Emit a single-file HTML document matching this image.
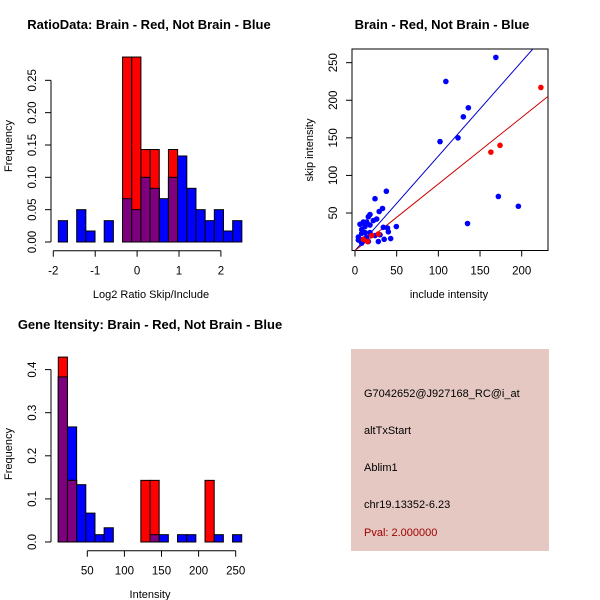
<!DOCTYPE html>
<html><head><meta charset="utf-8"><style>
html,body{margin:0;padding:0;background:#fff;}
svg{display:block;font-family:"Liberation Sans",sans-serif;}
</style></head><body>
<svg id="c" width="600" height="600" viewBox="0 0 600 600" xmlns="http://www.w3.org/2000/svg">
<rect width="600" height="600" fill="#fff"/>
<g id="p1"></g>
<g id="p2"></g>
<g id="p3"></g>
<g id="p4">
<rect x="351" y="349" width="198" height="202" fill="#E5C8C2"/>
<text x="364" y="397" font-size="11" fill="#000">G7042652@J927168_RC@i_at</text>
<text x="364" y="434" font-size="11" fill="#000">altTxStart</text>
<text x="364" y="471" font-size="11" fill="#000">Ablim1</text>
<text x="364" y="508" font-size="11" fill="#000">chr19.13352-6.23</text>
<text x="364" y="536" font-size="11" fill="#A00000">Pval: 2.000000</text>
</g>
</svg>
<script>
// ---- data ----
const ratioBinStart = -1.88;
const ratioBinWidth = 0.219;
const ratioBlue = [0.033,0,0.05,0.017,0,0.033,0,0.067,0.05,0.10,0.083,0.067,0.10,0.133,0.083,0.05,0.033,0.05,0.017,0.033];
const ratioRed  = [0,0,0,0,0,0,0,0.286,0.286,0.143,0.143,0,0.143,0,0,0,0,0,0,0];
const ratioXTicks = [-2,-1,0,1,2];
const ratioYTicks = ["0.00","0.05","0.10","0.15","0.20","0.25"];

const intBinStart = 10.9;
const intBinWidth = 12.36;
const intBlue = [0.383,0.267,0.133,0.067,0.017,0.033,0,0,0,0,0.017,0.017,0,0.017,0.017,0,0,0.017,0,0.017];
const intRed  = [0.429,0.143,0,0,0,0,0,0,0,0.143,0.143,0,0,0,0,0,0.143,0,0,0];
const intXTicks = [50,100,150,200,250];
const intYTicks = ["0.0","0.1","0.2","0.3","0.4"];

const blueX = [169,109,136,130,102,123.6,172,196,135,37.6,24,33,29,49.6,42.8,35,28,40,39,34,18,16,22,26,14,10,6,18,12,8,4,6,10,14,8,12,18,24,30,4,16,8,12];
const blueY = [257,225,190,178,145,150,72,59,36,79,69,56,52,32,16,15,12,25,30,31,48,45,40,42,38,38,35,34,32,28,18,15,14,18,23,24,24,20,21,14,12,10,16];
const redX = [223,163,174,15,20,10,28];
const redY = [217,131,140,12,20,15,22];
const blueSlope = 1.257;
const redSlope = 0.886;
const scatXTicks = [0,50,100,150,200];
const scatYTicks = [50,100,150,200,250];

const NS="http://www.w3.org/2000/svg";
function el(parent,tag,attrs,text){const e=document.createElementNS(NS,tag);for(const k in attrs)e.setAttribute(k,attrs[k]);if(text!==undefined)e.textContent=text;parent.appendChild(e);return e;}

function histogram(g,opt){
  const xs=v=>opt.x0px+(v-opt.x0)*opt.xk;
  const ys=v=>opt.base-v*opt.yk;
  for(let i=0;i<opt.blue.length;i++){
    const l=xs(opt.start+i*opt.w), r=xs(opt.start+(i+1)*opt.w);
    const b=opt.blue[i], rd=opt.red[i];
    if(b>0){const e=el(g,'rect',{x:l,y:ys(b),width:r-l,height:ys(0)-ys(b),fill:'#0000FF',stroke:'#000','stroke-width':1});
      }
    if(rd>0){const e=el(g,'rect',{x:l,y:ys(rd),width:r-l,height:ys(0)-ys(rd),fill:'#FF0000',stroke:'#000','stroke-width':1});
      }
    const m=Math.min(b,rd);
    if(m>0){const e=el(g,'rect',{x:l,y:ys(m),width:r-l,height:ys(0)-ys(m),fill:'#7F007F',stroke:'#000','stroke-width':1});
      }
  }
  const yv=opt.yTicks.map(Number);
  const ya=el(g,'line',{x1:opt.yAxisX,x2:opt.yAxisX,y1:ys(yv[0]),y2:ys(yv[yv.length-1]),stroke:'#000'});
  
  opt.yTicks.forEach(t=>{const y=ys(Number(t));
    el(g,'line',{x1:opt.yAxisX-6,x2:opt.yAxisX,y1:y,y2:y,stroke:'#000'});
    const lx=opt.yAxisX-15;
    const tx=el(g,'text',{x:lx,y:y,'font-size':11.5,'text-anchor':'middle',transform:`rotate(-90 ${lx} ${y})`},t);
    });
  const xa=el(g,'line',{x1:xs(opt.xTicks[0]),x2:xs(opt.xTicks[opt.xTicks.length-1]),y1:opt.xAxisY,y2:opt.xAxisY,stroke:'#000'});
  
  opt.xTicks.forEach(t=>{const x=xs(t);
    el(g,'line',{x1:x,x2:x,y1:opt.xAxisY,y2:opt.xAxisY+6,stroke:'#000'});
    const tx=el(g,'text',{x:x,y:opt.xAxisY+24,'font-size':11.5,'text-anchor':'middle'},String(t));
    });
  const ti=el(g,'text',{x:opt.titleX,y:opt.titleY,'font-size':13,'font-weight':'bold','text-anchor':'middle'},opt.title);
  
  const xl=el(g,'text',{x:opt.xlabX,y:opt.xlabY,'font-size':11,'text-anchor':'middle'},opt.xlab);
  
  const yl=el(g,'text',{x:12,y:opt.ylabY,'font-size':11,'text-anchor':'middle',transform:`rotate(-90 12 ${opt.ylabY})`},'Frequency');
  
}

histogram(document.getElementById('p1'),{blue:ratioBlue,red:ratioRed,start:ratioBinStart,w:ratioBinWidth,
  x0:0,x0px:137.1,xk:41.9,base:242,yk:646.7,yAxisX:51,xAxisY:250.7,xTicks:ratioXTicks,yTicks:ratioYTicks,
  title:'RatioData: Brain - Red, Not Brain - Blue',titleX:149,titleY:29,xlab:'Log2 Ratio Skip/Include',xlabX:151,xlabY:298,ylabY:146});
histogram(document.getElementById('p3'),{blue:intBlue,red:intRed,start:intBinStart,w:intBinWidth,
  x0:50,x0px:87.3,xk:0.742,base:542,yk:431,yAxisX:51,xAxisY:550.7,xTicks:intXTicks,yTicks:intYTicks,
  title:'Gene Itensity: Brain - Red, Not Brain - Blue',titleX:150,titleY:329,xlab:'Intensity',xlabX:150,xlabY:598,ylabY:454});

(function(){
  const g=document.getElementById('p2');
  const L=352,R=548,T=49,B=250.5;
  const xs=v=>355+v*0.8335;
  const ys=v=>250.6-v*0.7517;
  const box=el(g,'rect',{x:L,y:T,width:R-L,height:B-T,fill:'none',stroke:'#000'});
  
  const cp=el(g,'clipPath',{id:'sc'});el(cp,'rect',{x:L,y:T,width:R-L,height:B-T});
  const lg=el(g,'g',{'clip-path':'url(#sc)'});
  const xMax=240;
  const bl=el(lg,'line',{x1:xs(0),y1:ys(0),x2:xs(xMax),y2:ys(xMax*blueSlope),stroke:'#0000CC'});
  
  const rl=el(lg,'line',{x1:xs(0),y1:ys(0),x2:xs(xMax),y2:ys(xMax*redSlope),stroke:'#CC0000'});
  
  for(let i=0;i<blueX.length;i++){const c=el(g,'circle',{cx:xs(blueX[i]),cy:ys(blueY[i]),r:2.8,fill:'#0000FF'});
    }
  for(let i=0;i<redX.length;i++){const c=el(g,'circle',{cx:xs(redX[i]),cy:ys(redY[i]),r:2.8,fill:'#FF0000'});
    }
  scatXTicks.forEach(t=>{const x=xs(t);el(g,'line',{x1:x,x2:x,y1:B,y2:B+6,stroke:'#000'});
    const tx=el(g,'text',{x:x,y:B+24,'font-size':11.5,'text-anchor':'middle'},String(t));
    });
  scatYTicks.forEach(t=>{const y=ys(t);el(g,'line',{x1:L-6,x2:L,y1:y,y2:y,stroke:'#000'});
    const lx=L-15;
    const tx=el(g,'text',{x:lx,y:y,'font-size':11.5,'text-anchor':'middle',transform:`rotate(-90 ${lx} ${y})`},String(t));
    });
  const ti=el(g,'text',{x:442,y:29,'font-size':13,'font-weight':'bold','text-anchor':'middle'},'Brain - Red, Not Brain - Blue');
  
  const xl=el(g,'text',{x:449,y:298,'font-size':11,'text-anchor':'middle'},'include intensity');
  
  const yl=el(g,'text',{x:313,y:150,'font-size':11,'text-anchor':'middle',transform:'rotate(-90 313 150)'},'skip intensity');
  
})();
</script>
</body></html>
